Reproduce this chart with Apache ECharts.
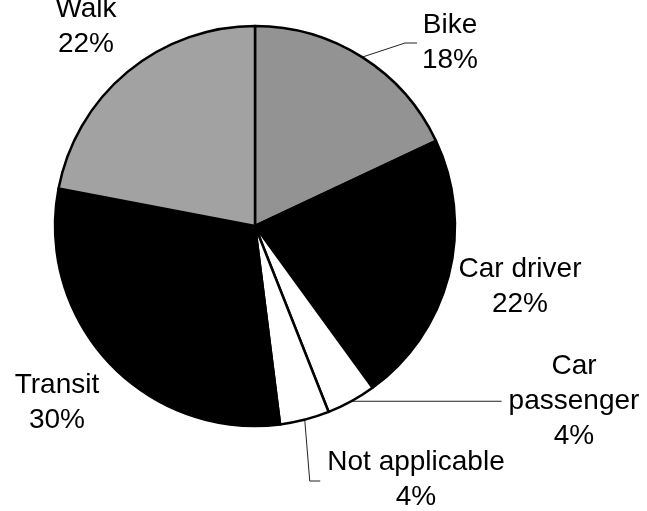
<!DOCTYPE html>
<html>
<head>
<meta charset="utf-8">
<script src="https://cdn.jsdelivr.net/npm/echarts@6/dist/echarts.min.js"></script>
<style>
html,body{margin:0;padding:0;background:#fff;}
#chart{width:647px;height:511px;}
</style>
</head>
<body>
<div id="chart"></div>
<script>
// Data
const categories = ['Bike', 'Car driver', 'Car passenger', 'Not applicable', 'Transit', 'Walk'];
const shares = [18, 22, 4, 4, 30, 22];
const sliceColors = ['#939393', '#000000', '#ffffff', '#ffffff', '#000000', '#a2a2a2'];
const withLeader = [true, false, true, true, false, false];

// Label layout (centre x, middle y), in pixels
const labelPos = [[450, 43], [520, 287], [574, 401], [416, 480], [57, 403], [86, 27]];

const chart = echarts.init(document.getElementById('chart'), null, {renderer: 'canvas'});

const data = categories.map((c, i) => ({
  name: c,
  value: shares[i],
  itemStyle: {color: sliceColors[i]},
  labelLine: {show: withLeader[i]}
}));

chart.setOption({
  backgroundColor: '#ffffff',
  animation: false,
  series: [{
    type: 'pie',
    center: [255, 226],
    radius: [0, 200],
    startAngle: 90,
    clockwise: true,
    avoidLabelOverlap: false,
    data: data,
    itemStyle: {borderColor: '#000', borderWidth: 2.5},
    label: {
      show: true,
      position: 'outside',
      color: '#000',
      fontFamily: 'Liberation Sans, Arial, sans-serif',
      fontSize: 28,
      lineHeight: 35,
      formatter: p => p.name.replace('Car passenger', 'Car\npassenger') + '\n' + p.value + '%'
    },
    labelLine: {
      length: 10,
      length2: 10,
      lineStyle: {color: '#222', width: 1}
    },
    labelLayout: function (params) {
      const i = params.dataIndex;
      const x = labelPos[i][0], y = labelPos[i][1];
      const w = params.labelRect.width;
      const left = x - w / 2;
      const res = {x: x, y: y, align: 'center', verticalAlign: 'middle'};
      const pts = params.labelLinePoints;
      if (pts && withLeader[i]) {
        const s = pts[0];
        if (i === 0) {
          res.labelLinePoints = [s, [left - 17, y], [left - 5, y]];
        } else if (i === 2) {
          res.labelLinePoints = [s, [(s[0] + left) / 2, s[1]], [left - 7, s[1]]];
        } else if (i === 3) {
          res.labelLinePoints = [s, [s[0] + 5, y + 1], [left - 7, y + 1]];
        }
      }
      return res;
    }
  }]
});
</script>
</body>
</html>
